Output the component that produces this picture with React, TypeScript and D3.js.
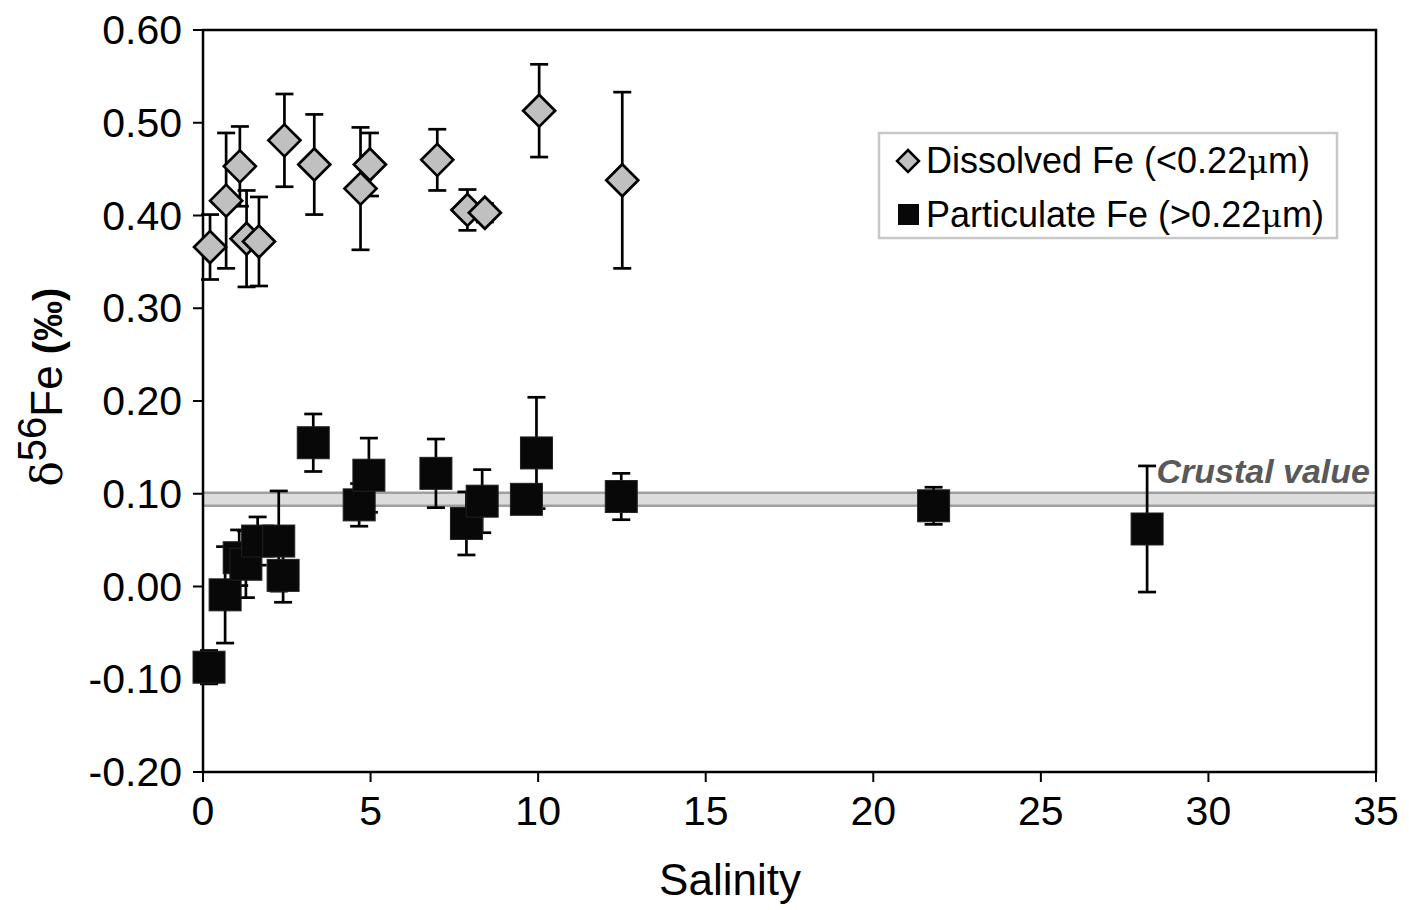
import React from "react";
import * as d3 from "d3";

const dissolvedSalinity = [0.21, 0.69, 1.1, 1.3, 1.67, 2.43, 3.32, 4.7, 4.98, 6.99, 7.89, 8.41, 10.03, 12.51];
const dissolvedValue = [0.366, 0.416, 0.453, 0.375, 0.372, 0.481, 0.455, 0.429, 0.455, 0.46, 0.406, 0.403, 0.513, 0.438];
const dissolvedErr = [0.035, 0.073, 0.043, 0.052, 0.048, 0.05, 0.054, 0.066, 0.034, 0.033, 0.022, 0.01, 0.05, 0.095];

const particulateSalinity = [0.18, 0.66, 1.08, 1.28, 1.63, 2.26, 2.39, 3.29, 4.66, 4.95, 6.95, 7.86, 8.33, 9.65, 9.95, 12.48, 21.8, 28.17];
const particulateValue = [-0.087, -0.009, 0.031, 0.024, 0.049, 0.049, 0.012, 0.155, 0.088, 0.12, 0.122, 0.068, 0.092, 0.094, 0.144, 0.097, 0.087, 0.062];
const particulateErr = [0.018, 0.052, 0.03, 0.036, 0.026, 0.054, 0.029, 0.031, 0.023, 0.04, 0.037, 0.034, 0.034, 0.012, 0.06, 0.025, 0.02, 0.068];

const crustalBand = [0.087, 0.101];
const xTicks = [0, 5, 10, 15, 20, 25, 30, 35];
const yTicks = [-0.2, -0.1, 0, 0.1, 0.2, 0.3, 0.4, 0.5, 0.6];

const FONT = "'Liberation Sans', Arial, Helvetica, sans-serif";

export default function App() {
  const x = d3.scaleLinear().domain([0, 35]).range([203, 1376]);
  const y = d3.scaleLinear().domain([-0.2, 0.6]).range([772, 30]);
  const cap = 9;
  const dHalf = 16;
  const sq = 32;

  const diss = dissolvedSalinity.map((s, i) => ({ s, v: dissolvedValue[i], e: dissolvedErr[i] }));
  const part = particulateSalinity.map((s, i) => ({ s, v: particulateValue[i], e: particulateErr[i] }));

  const errBar = (d: { s: number; v: number; e: number }, key: string) => {
    const cx = x(d.s);
    const y1 = y(d.v + d.e);
    const y2 = y(d.v - d.e);
    return (
      <g key={key} stroke="#000" strokeWidth={2.7}>
        <line x1={cx} x2={cx} y1={y1} y2={y2} />
        <line x1={cx - cap} x2={cx + cap} y1={y1} y2={y1} />
        <line x1={cx - cap} x2={cx + cap} y1={y2} y2={y2} />
      </g>
    );
  };

  const diamondPath = (cx: number, cy: number, h: number) =>
    `M${cx},${cy - h}L${cx + h},${cy}L${cx},${cy + h}L${cx - h},${cy}Z`;

  return (
    <svg width={1409} height={910} style={{ display: "block", position: "absolute", left: 0, top: 0 }} fontFamily={FONT}>
      <rect x={0} y={0} width={1409} height={910} fill="#fff" />
      {/* crustal band */}
      <rect x={x(0)} width={x(35) - x(0)} y={y(crustalBand[1])} height={y(crustalBand[0]) - y(crustalBand[1])} fill="#dcdcdc" />
      <line x1={x(0)} x2={x(35)} y1={y(crustalBand[1])} y2={y(crustalBand[1])} stroke="#a0a0a0" strokeWidth={2.5} />
      <line x1={x(0)} x2={x(35)} y1={y(crustalBand[0])} y2={y(crustalBand[0])} stroke="#a0a0a0" strokeWidth={2.5} />
      <text x={1370} y={483} textAnchor="end" fontSize={34} fontWeight="bold" fontStyle="italic" fill="#595959">
        Crustal value
      </text>

      {/* frame */}
      <rect x={x(0)} y={y(0.6)} width={x(35) - x(0)} height={y(-0.2) - y(0.6)} fill="none" stroke="#000" strokeWidth={2.5} />

      {/* y ticks */}
      {yTicks.map((t) => (
        <g key={"yt" + t}>
          <line x1={x(0) - 10} x2={x(0)} y1={y(t)} y2={y(t)} stroke="#000" strokeWidth={2} />
          <text x={182} y={y(t) + 14} textAnchor="end" fontSize={41} fill="#000">
            {t.toFixed(2)}
          </text>
        </g>
      ))}
      {/* x ticks */}
      {xTicks.map((t) => (
        <g key={"xt" + t}>
          <line x1={x(t)} x2={x(t)} y1={y(-0.2)} y2={y(-0.2) + 10} stroke="#000" strokeWidth={2} />
          <text x={x(t)} y={825} textAnchor="middle" fontSize={41} fill="#000">
            {t}
          </text>
        </g>
      ))}

      {/* axis titles */}
      <text x={730} y={895} textAnchor="middle" fontSize={44} fill="#000">
        Salinity
      </text>
      <text transform="translate(62,387) rotate(-90)" textAnchor="middle" fontSize={44} fill="#000">
        <tspan fontFamily="'DejaVu Serif', serif" fontSize={42}>δ</tspan>
        <tspan dy={-16} fontSize={40}>56</tspan>
        <tspan dy={16}>Fe</tspan>
        <tspan fontWeight="bold" fontSize={40}> (‰)</tspan>
      </text>

      {/* error bars */}
      {diss.map((d, i) => errBar(d, "de" + i))}
      {part.map((d, i) => errBar(d, "pe" + i))}

      {/* markers */}
      {diss.map((d, i) => (
        <path key={"dm" + i} d={diamondPath(x(d.s), y(d.v), dHalf)} fill="#c0c0c0" stroke="#000" strokeWidth={2.7} strokeLinejoin="miter" />
      ))}
      {part.map((d, i) => (
        <rect key={"pm" + i} x={x(d.s) - sq / 2} y={y(d.v) - sq / 2} width={sq} height={sq} fill="#080808" stroke="#222" strokeWidth={1} />
      ))}

      {/* legend */}
      <rect x={879} y={133} width={458} height={105} fill="#fff" stroke="#c8c8c8" strokeWidth={2.5} />
      <path d={diamondPath(908, 161, 11)} fill="#c0c0c0" stroke="#000" strokeWidth={2.5} />
      <text x={926} y={173} fontSize={36} fill="#000">
        Dissolved Fe (&lt;0.22<tspan fontFamily="'DejaVu Serif', serif" fontSize={32}>μ</tspan>m)
      </text>
      <rect x={898} y={204} width={21} height={21} fill="#080808" />
      <text x={926} y={227} fontSize={36} fill="#000">
        Particulate Fe (&gt;0.22<tspan fontFamily="'DejaVu Serif', serif" fontSize={32}>μ</tspan>m)
      </text>
    </svg>
  );
}
